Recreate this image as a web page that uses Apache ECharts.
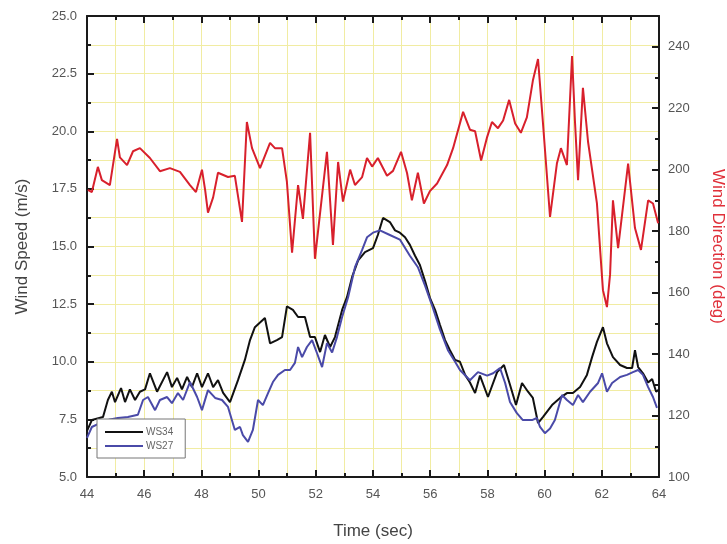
<!DOCTYPE html>
<html><head><meta charset="utf-8">
<script src="https://cdn.jsdelivr.net/npm/echarts@6/dist/echarts.min.js"></script>
<style>html,body{margin:0;padding:0;background:#fff}#c{width:727px;height:544px}</style>
</head><body><div id="c"></div>
<script>
const redTime = [44.03,44.17,44.38,44.52,44.80,45.05,45.15,45.40,45.61,45.85,46.20,46.55,46.90,47.25,47.60,47.81,48.02,48.13,48.23,48.41,48.58,48.93,49.17,49.42,49.59,49.77,50.05,50.40,50.57,50.82,50.99,51.17,51.38,51.55,51.80,51.97,52.39,52.60,52.78,52.95,53.20,53.37,53.62,53.79,53.97,54.17,54.49,54.70,54.98,55.19,55.36,55.57,55.78,55.99,56.24,56.59,56.80,57.15,57.39,57.57,57.78,57.99,58.16,58.37,58.55,58.76,58.97,59.17,59.38,59.59,59.77,59.94,60.19,60.43,60.57,60.78,60.96,61.06,61.17,61.34,61.52,61.83,62.04,62.18,62.29,62.39,62.57,62.92,63.16,63.37,63.62,63.79,63.97];
const redDir = [193.4,192.7,200.9,196.6,195,210,204,201.5,206,207,203.8,199.5,200.5,199.3,195,192.7,200,193.4,186,191,199,197.6,198,183,215.5,207,200.5,208.7,207,207,196,173,195,184,212,171,205.8,175.5,202.5,189.6,200,195,197.6,203.8,201,203.8,198,199.6,205.8,198.9,190,199,189,193,195.5,201.5,207,218.8,213,212.5,203,210.6,215.5,213.5,216,222.7,215,212,217,229,236,215.5,184.6,202,207,201.5,237,216,196.6,226.6,209,189,160.8,155.3,166,190,174.5,202,181,173.9,190,189,182.6];
const ws34Time = [44.00,44.17,44.56,44.73,44.87,44.98,45.19,45.33,45.50,45.68,45.85,46.03,46.20,46.45,46.80,46.97,47.15,47.32,47.50,47.67,47.85,48.02,48.23,48.41,48.58,48.76,49.00,49.28,49.52,49.70,49.87,50.22,50.40,50.64,50.82,50.99,51.20,51.38,51.62,51.80,51.97,52.15,52.32,52.50,52.67,52.92,53.09,53.27,53.48,53.72,54.00,54.17,54.35,54.59,54.77,54.94,55.12,55.29,55.47,55.64,55.82,55.99,56.17,56.34,56.52,56.69,56.87,57.04,57.22,57.39,57.57,57.74,58.02,58.34,58.58,58.79,59.00,59.21,59.42,59.59,59.77,59.94,60.26,60.54,60.78,60.99,61.24,61.48,61.66,61.83,62.04,62.18,62.39,62.64,62.88,63.06,63.16,63.27,63.44,63.62,63.76,63.90,64.00];
const ws34Speed = [7.0,7.47,7.6,8.34,8.7,8.25,8.86,8.25,8.8,8.34,8.7,8.8,9.5,8.7,9.55,8.9,9.3,8.8,9.34,8.9,9.5,8.9,9.5,8.9,9.2,8.65,8.25,9.2,10.08,10.94,11.5,11.9,10.8,10.94,11.07,12.4,12.25,11.94,11.94,11.07,11.07,10.42,11.16,10.64,11.07,12.25,12.8,13.68,14.4,14.76,14.93,15.5,16.24,16.06,15.7,15.6,15.4,15.07,14.6,14.2,13.5,12.77,12.25,11.6,10.94,10.5,10.08,10.0,9.43,9.1,8.64,9.4,8.47,9.55,9.86,9.0,8.12,9.08,8.7,8.43,7.34,7.6,8.12,8.43,8.64,8.64,8.9,9.43,10.2,10.86,11.5,10.8,10.2,9.86,9.73,9.73,10.5,9.77,9.5,9.1,9.25,8.7,8.8];
const ws27Time = [44.00,44.17,44.45,44.80,45.08,45.43,45.78,45.96,46.13,46.38,46.55,46.80,46.97,47.18,47.36,47.60,47.85,48.02,48.23,48.48,48.72,48.93,49.17,49.35,49.45,49.63,49.80,49.98,50.15,50.33,50.50,50.68,50.92,51.10,51.27,51.38,51.52,51.69,51.87,52.04,52.22,52.39,52.57,52.74,52.92,53.13,53.37,53.62,53.79,54.00,54.24,54.59,54.94,55.29,55.57,55.82,56.06,56.34,56.62,56.87,57.04,57.39,57.67,57.99,58.20,58.44,58.62,58.79,59.03,59.24,59.56,59.73,59.84,60.01,60.19,60.36,60.61,60.78,60.99,61.17,61.34,61.59,61.87,62.01,62.18,62.36,62.64,62.88,63.09,63.27,63.44,63.62,63.79,63.93];
const ws27Speed = [6.7,7.17,7.34,7.5,7.56,7.6,7.7,8.34,8.47,7.9,8.34,8.47,8.2,8.64,8.34,9.12,8.47,7.9,8.77,8.43,8.34,8.04,7.04,7.17,6.82,6.52,7.04,8.34,8.12,8.64,9.12,9.43,9.64,9.64,9.95,10.64,10.2,10.64,10.94,10.38,9.77,10.81,10.4,11.07,11.94,12.8,14.1,14.85,15.4,15.6,15.7,15.5,15.3,14.6,14.1,13.3,12.46,11.4,10.5,10.0,9.64,9.2,9.55,9.4,9.5,9.73,9.08,8.25,7.77,7.47,7.47,7.56,7.17,6.9,7.1,7.47,8.56,8.34,8.12,8.56,8.25,8.7,9.08,9.5,8.7,9.08,9.34,9.43,9.55,9.64,9.43,8.9,8.47,8.0];

const zip = (a, b) => a.map((t, i) => [t, b[i]]);
const FONT = 'Liberation Sans, Arial, sans-serif';
const GRIDC = '#f1eca2';
const AX = {lineStyle: {color: '#1a1a1a', width: 2}};
const chart = echarts.init(document.getElementById('c'));
chart.setOption({
  animation: false,
  backgroundColor: '#fff',
  grid: {left: 87, right: 68, top: 16, bottom: 67, containLabel: false, outerBoundsMode: 'none'},
  legend: {
    left: 97, top: 419, orient: 'vertical',
    backgroundColor: '#fff', borderColor: '#777', borderWidth: 1,
    padding: [8, 12, 7, 8], itemGap: 4, itemWidth: 38, itemHeight: 2,
    icon: 'rect',
    textStyle: {fontFamily: FONT, fontSize: 10, color: '#666', padding: [0, 0, 0, -2]},
    data: ['WS34', 'WS27']
  },
  xAxis: [{
    type: 'value', min: 44, max: 64, interval: 2, position: 'bottom',
    name: 'Time (sec)', nameLocation: 'middle', nameGap: 46,
    nameTextStyle: {fontFamily: FONT, fontSize: 17, color: '#444'},
    axisLine: AX,
    axisTick: {inside: true, length: 7, lineStyle: {color: '#1a1a1a', width: 2}},
    minorTick: {show: true, splitNumber: 2, length: 4, lineStyle: {color: '#1a1a1a', width: 2}},
    axisLabel: {fontFamily: FONT, fontSize: 13, color: '#555', margin: 11},
    splitLine: {show: true, lineStyle: {color: GRIDC, width: 1}},
    minorSplitLine: {show: true, lineStyle: {color: GRIDC, width: 1}}
  }, {
    type: 'value', min: 44, max: 64, interval: 2, position: 'top',
    axisLine: AX,
    axisTick: {inside: true, length: 7, lineStyle: {color: '#1a1a1a', width: 2}},
    minorTick: {show: true, splitNumber: 2, length: 4, lineStyle: {color: '#1a1a1a', width: 2}},
    axisLabel: {show: false}, splitLine: {show: false}
  }],
  yAxis: [{
    type: 'value', min: 5, max: 25, interval: 2.5, position: 'left',
    name: 'Wind Speed (m/s)', nameLocation: 'middle', nameGap: 56,
    nameTextStyle: {fontFamily: FONT, fontSize: 17, color: '#444'},
    axisLine: AX,
    axisTick: {inside: true, length: 7, lineStyle: {color: '#1a1a1a', width: 2}},
    minorTick: {show: true, splitNumber: 2, length: 4, lineStyle: {color: '#1a1a1a', width: 2}},
    axisLabel: {fontFamily: FONT, fontSize: 13, color: '#555', margin: 10, formatter: v => v.toFixed(1)},
    splitLine: {show: true, lineStyle: {color: GRIDC, width: 1}},
    minorSplitLine: {show: true, lineStyle: {color: GRIDC, width: 1}}
  }, {
    type: 'value', min: 100, max: 250, interval: 20, position: 'right',
    name: 'Wind Direction (deg)', nameLocation: 'middle', nameGap: 50, nameRotate: -90,
    nameTextStyle: {fontFamily: FONT, fontSize: 17, color: '#e0303a'},
    axisLine: AX,
    axisTick: {inside: true, length: 7, lineStyle: {color: '#1a1a1a', width: 2}},
    minorTick: {show: true, splitNumber: 2, length: 4, lineStyle: {color: '#1a1a1a', width: 2}},
    axisLabel: {fontFamily: FONT, fontSize: 13, color: '#555', margin: 9, showMaxLabel: false},
    splitLine: {show: false}
  }],
  series: [{
    name: 'Direction', type: 'line', xAxisIndex: 0, yAxisIndex: 1, data: zip(redTime, redDir),
    showSymbol: false, lineStyle: {color: '#d8202c', width: 2}, itemStyle: {color: '#d8202c'}, z: 2
  }, {
    name: 'WS34', type: 'line', xAxisIndex: 0, yAxisIndex: 0, data: zip(ws34Time, ws34Speed),
    showSymbol: false, lineStyle: {color: '#111', width: 2}, itemStyle: {color: '#111'}, z: 3
  }, {
    name: 'WS27', type: 'line', xAxisIndex: 0, yAxisIndex: 0, data: zip(ws27Time, ws27Speed),
    showSymbol: false, lineStyle: {color: '#4a4aa8', width: 2}, itemStyle: {color: '#4a4aa8'}, z: 3
  }]
});
</script></body></html>
